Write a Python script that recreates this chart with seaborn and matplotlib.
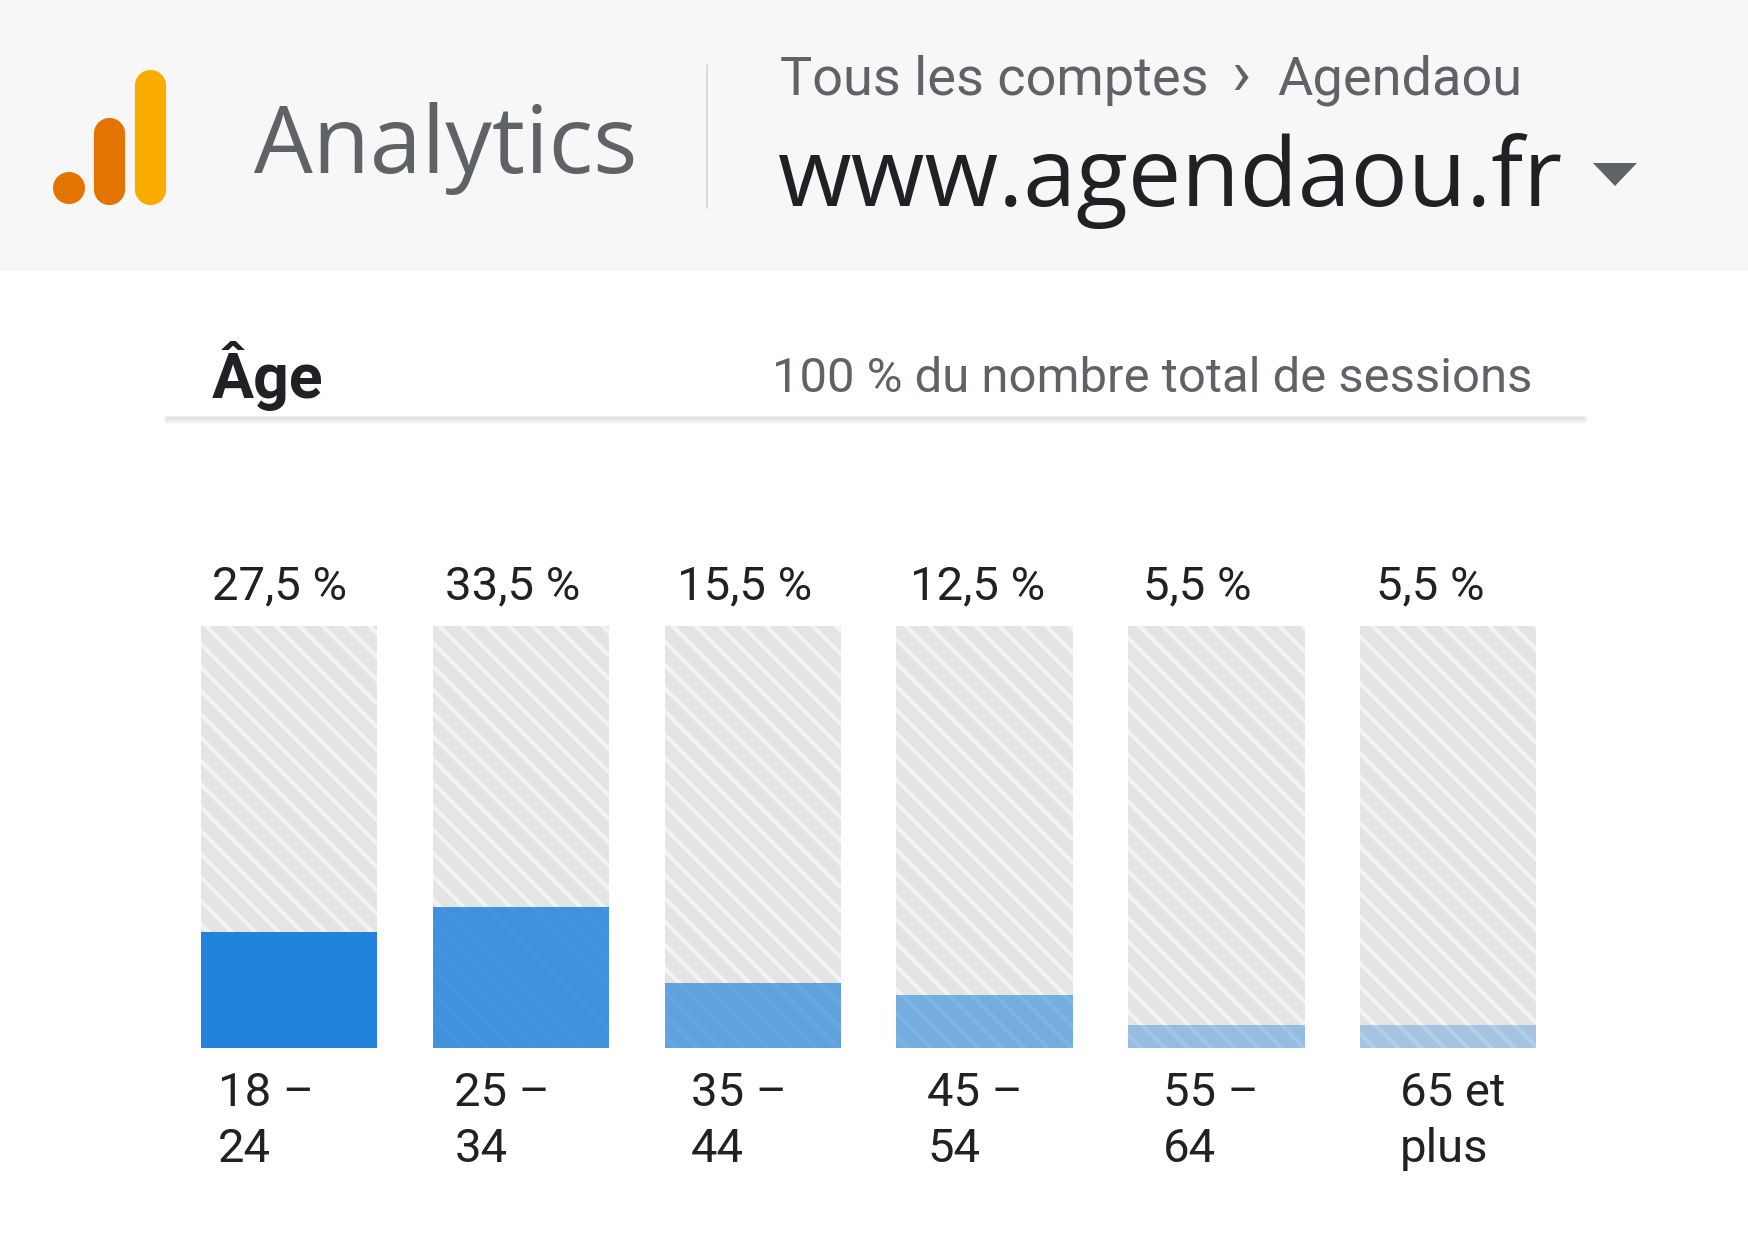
import numpy as np
import pandas as pd
import seaborn as sns
import matplotlib.pyplot as plt
from matplotlib.patches import Rectangle, Circle, Polygon

tranches = ["18 –\n24", "25 –\n34", "35 –\n44", "45 –\n54", "55 –\n64", "65 et\nplus"]
sessions_pct = [27.5, 33.5, 15.5, 12.5, 5.5, 5.5]
opacites = [1.0, 0.84, 0.68, 0.56, 0.4, 0.32]

# dpi 70 -> hachures espacées d'environ 12 px comme sur la capture
DPI = 70
S = 100 / DPI  # tailles réglées en points à 100 dpi

sns.set_style("white")
plt.rcParams['font.family'] = ['Roboto', 'DejaVu Sans']
plt.rcParams['hatch.linewidth'] = 4.3

W, H = 1748, 1240
fig = plt.figure(figsize=(W / DPI, H / DPI), dpi=DPI)
fig.patch.set_facecolor('white')

# calque de fond en pixels pour l'en-tête
bg = fig.add_axes([0, 0, 1, 1], zorder=0)
bg.set_xlim(0, W)
bg.set_ylim(H, 0)
bg.axis('off')

bg.add_patch(Rectangle((0, 0), W, 271, color='#f7f7f7', lw=0))

# logo
bg.add_patch(Circle((69, 188), 16, color='#e37400', lw=0))
bg.plot([109, 109], [133, 189], color='#e37400', lw=22.5 * S, solid_capstyle='round')
bg.plot([149.5, 149.5], [85, 189], color='#f9ab00', lw=22.5 * S, solid_capstyle='round')

bg.text(254, 173, "Analytics", fontsize=67 * S, color='#5f6368', va='baseline',
        family=['Open Sans', 'DejaVu Sans'])
bg.plot([707, 707], [65, 208], color='#dadce0', lw=1.5 * S)
bg.text(780, 95, "Tous les comptes", fontsize=39 * S, color='#5f6368', va='baseline')
bg.text(1241, 95, "›", fontsize=46 * S, color='#5f6368', va='baseline', ha='center')
bg.text(1277, 95, "Agendaou", fontsize=39 * S, color='#5f6368', va='baseline')
bg.text(778, 206, "www.agendaou.fr", fontsize=68.5 * S, color='#202124', va='baseline',
        family=['Open Sans', 'DejaVu Sans'])
bg.add_patch(Polygon([[1593, 163], [1637, 163], [1615, 186]], closed=True,
                     color='#5f6368', lw=0))

# titre de la carte
bg.text(212, 398, "Âge", fontsize=45 * S, fontweight='bold', color='#202124', va='baseline')
bg.text(1532, 392, "100 % du nombre total de sessions", fontsize=35.3 * S, color='#5f6368',
        va='baseline', ha='right')
bg.plot([167, 1583], [419, 419], color='#eeeeee', lw=5 * S)
bg.plot([167, 1583], [418, 418], color='#e3e3e3', lw=2.2 * S)

# graphique
df = pd.DataFrame({"tranche": tranches, "pct": sessions_pct})
ax = fig.add_axes([0.0989, 0.1548, 0.796, 0.340], zorder=1)
ax.patch.set_alpha(0)

largeur = 0.76
sns.barplot(data=df.assign(total=100), x="tranche", y="total", color='#e4e4e4',
            width=largeur, ax=ax, saturation=1)
for p in ax.patches:
    p.set_hatch('\\')
    p.set_edgecolor('#f3f3f3')
    p.set_linewidth(0)

n_fond = len(ax.patches)
sns.barplot(data=df, x="tranche", y="pct", color='#2183dc', width=largeur, ax=ax,
            saturation=1)
for p, a in zip(ax.patches[n_fond:], opacites):
    p.set_alpha(a)
    p.set_linewidth(0)

ax.set_xlim(-0.5, len(tranches) - 0.5)
ax.set_ylim(0, 100)
ax.axis('off')

px_y = 100 / 421.5  # unités de données par pixel vertical
for i, (lab, v) in enumerate(zip(tranches, sessions_pct)):
    gauche = i - largeur / 2
    txt = f"{v:.1f}".replace('.', ',') + " %"
    ax.text(gauche + 0.048 + i * 0.004, 100 + 27 * px_y, txt, fontsize=34 * S,
            color='#202124', va='baseline', clip_on=False)
    for k, ligne in enumerate(lab.split("\n")):
        ax.text(gauche + 0.075 + i * 0.019, -(58 + 56 * k) * px_y, ligne,
                fontsize=34 * S, color='#202124', va='baseline', clip_on=False)

fig.savefig("out.png", dpi=DPI)
